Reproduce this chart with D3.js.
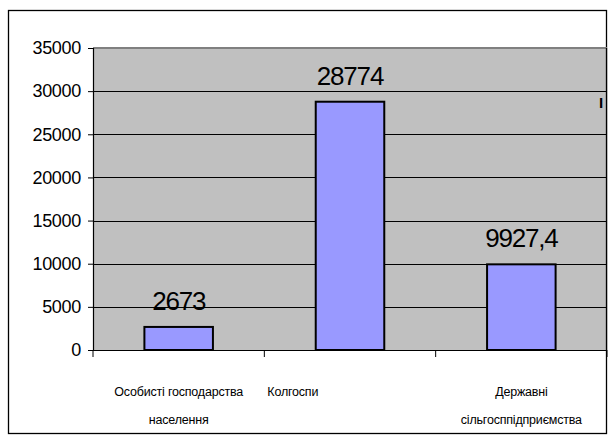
<!DOCTYPE html>
<html>
<head>
<meta charset="utf-8">
<script src="https://cdn.jsdelivr.net/npm/d3@7/dist/d3.min.js"></script>
<style>
  html, body { margin: 0; padding: 0; background: #fff; }
  svg { display: block; }
  text { font-family: Arial, "Liberation Sans", sans-serif; }
</style>
</head>
<body>
<svg id="chart" width="615" height="442"></svg>
<script>
const categories = ["Особисті господарства населення", "Колгоспи", "Державні сільгосппідприємства"];
const categoryLines = [["Особисті господарства", "населення"], ["Колгоспи"], ["Державні", "сільгосппідприємства"]];
const values = [2673, 28774, 9927.4];
const valueLabels = ["2673", "28774", "9927,4"];
const yTicks = [0, 5000, 10000, 15000, 20000, 25000, 30000, 35000];

const svg = d3.select("#chart");
const plot = { left: 93, right: 607, top: 48, bottom: 350 };

// outer frame
svg.append("rect")
  .attr("x", 8.5).attr("y", 10.5)
  .attr("width", 598).attr("height", 423)
  .attr("fill", "#fff").attr("stroke", "#000").attr("stroke-width", 1.3);

const y = d3.scaleLinear().domain([0, 35000]).range([plot.bottom, plot.top]);
const x = d3.scaleBand().domain(categories).range([plot.left, plot.right])
  .paddingInner(0.6).paddingOuter(0.3);
const step = x.step();

// plot area
svg.append("rect")
  .attr("x", plot.left).attr("y", plot.top)
  .attr("width", plot.right - plot.left).attr("height", plot.bottom - plot.top)
  .attr("fill", "#C0C0C0");
svg.append("line")
  .attr("x1", plot.left).attr("x2", plot.right)
  .attr("y1", plot.top).attr("y2", plot.top)
  .attr("stroke", "#808080").attr("stroke-width", 2);
svg.append("line")
  .attr("x1", plot.right - 0.5).attr("x2", plot.right - 0.5)
  .attr("y1", plot.top).attr("y2", plot.bottom)
  .attr("stroke", "#000").attr("stroke-width", 1.3);

// gridlines
svg.append("g").selectAll("line")
  .data(yTicks.filter(d => d > 0 && d < 35000))
  .join("line")
  .attr("x1", plot.left).attr("x2", plot.right)
  .attr("y1", d => Math.round(y(d)) + 0.5).attr("y2", d => Math.round(y(d)) + 0.5)
  .attr("stroke", "#000").attr("stroke-width", 1);

// y axis
const yAxis = svg.append("g")
  .attr("transform", `translate(${plot.left},0)`)
  .call(d3.axisLeft(y).tickValues(yTicks).tickSize(5).tickPadding(7).tickFormat(d3.format("d")));
yAxis.select(".domain").attr("stroke", "#000").attr("stroke-width", 1.2);
yAxis.selectAll(".tick line").attr("stroke", "#000");
yAxis.selectAll(".tick text").attr("font-size", 18).attr("fill", "#000")
  .attr("font-family", "Arial, 'Liberation Sans', sans-serif").attr("letter-spacing", "-0.3");

// x axis line and boundary ticks
svg.append("line")
  .attr("x1", plot.left).attr("x2", plot.right)
  .attr("y1", plot.bottom + 0.5).attr("y2", plot.bottom + 0.5)
  .attr("stroke", "#000").attr("stroke-width", 1.2);
svg.append("g").selectAll("line")
  .data(d3.range(categories.length + 1))
  .join("line")
  .attr("x1", i => plot.left + i * step).attr("x2", i => plot.left + i * step)
  .attr("y1", plot.bottom).attr("y2", plot.bottom + 7)
  .attr("stroke", "#000").attr("stroke-width", 1);

// bars
svg.append("g").selectAll("rect")
  .data(values)
  .join("rect")
  .attr("x", (d, i) => x(categories[i]))
  .attr("y", d => y(d))
  .attr("width", x.bandwidth())
  .attr("height", d => y(0) - y(d))
  .attr("fill", "#9999FF").attr("stroke", "#000").attr("stroke-width", 2);

// value labels
svg.append("g").selectAll("text")
  .data(values)
  .join("text")
  .attr("x", (d, i) => x(categories[i]) + x.bandwidth() / 2)
  .attr("y", d => y(d) - 17)
  .attr("text-anchor", "middle")
  .attr("font-size", 26).attr("letter-spacing", "-1.2")
  .attr("fill", "#000")
  .text((d, i) => valueLabels[i]);

// category labels
const catG = svg.append("g");
categoryLines.forEach((lines, i) => {
  const bandStart = plot.left + i * step;
  const center = bandStart + step / 2;
  const single = lines.length === 1;
  lines.forEach((ln, j) => {
    catG.append("text")
      .attr("x", single ? bandStart + 3 : center)
      .attr("y", 396 + j * 28)
      .attr("text-anchor", single ? "start" : "middle")
      .attr("font-size", 12.5).attr("letter-spacing", "-0.2")
      .attr("fill", "#000")
      .text(ln);
  });
});

// stray mark
svg.append("text")
  .attr("x", 601).attr("y", 107.5)
  .attr("text-anchor", "middle")
  .attr("font-size", 15).attr("font-weight", "bold").attr("fill", "#000")
  .text("I");
</script>
</body>
</html>
